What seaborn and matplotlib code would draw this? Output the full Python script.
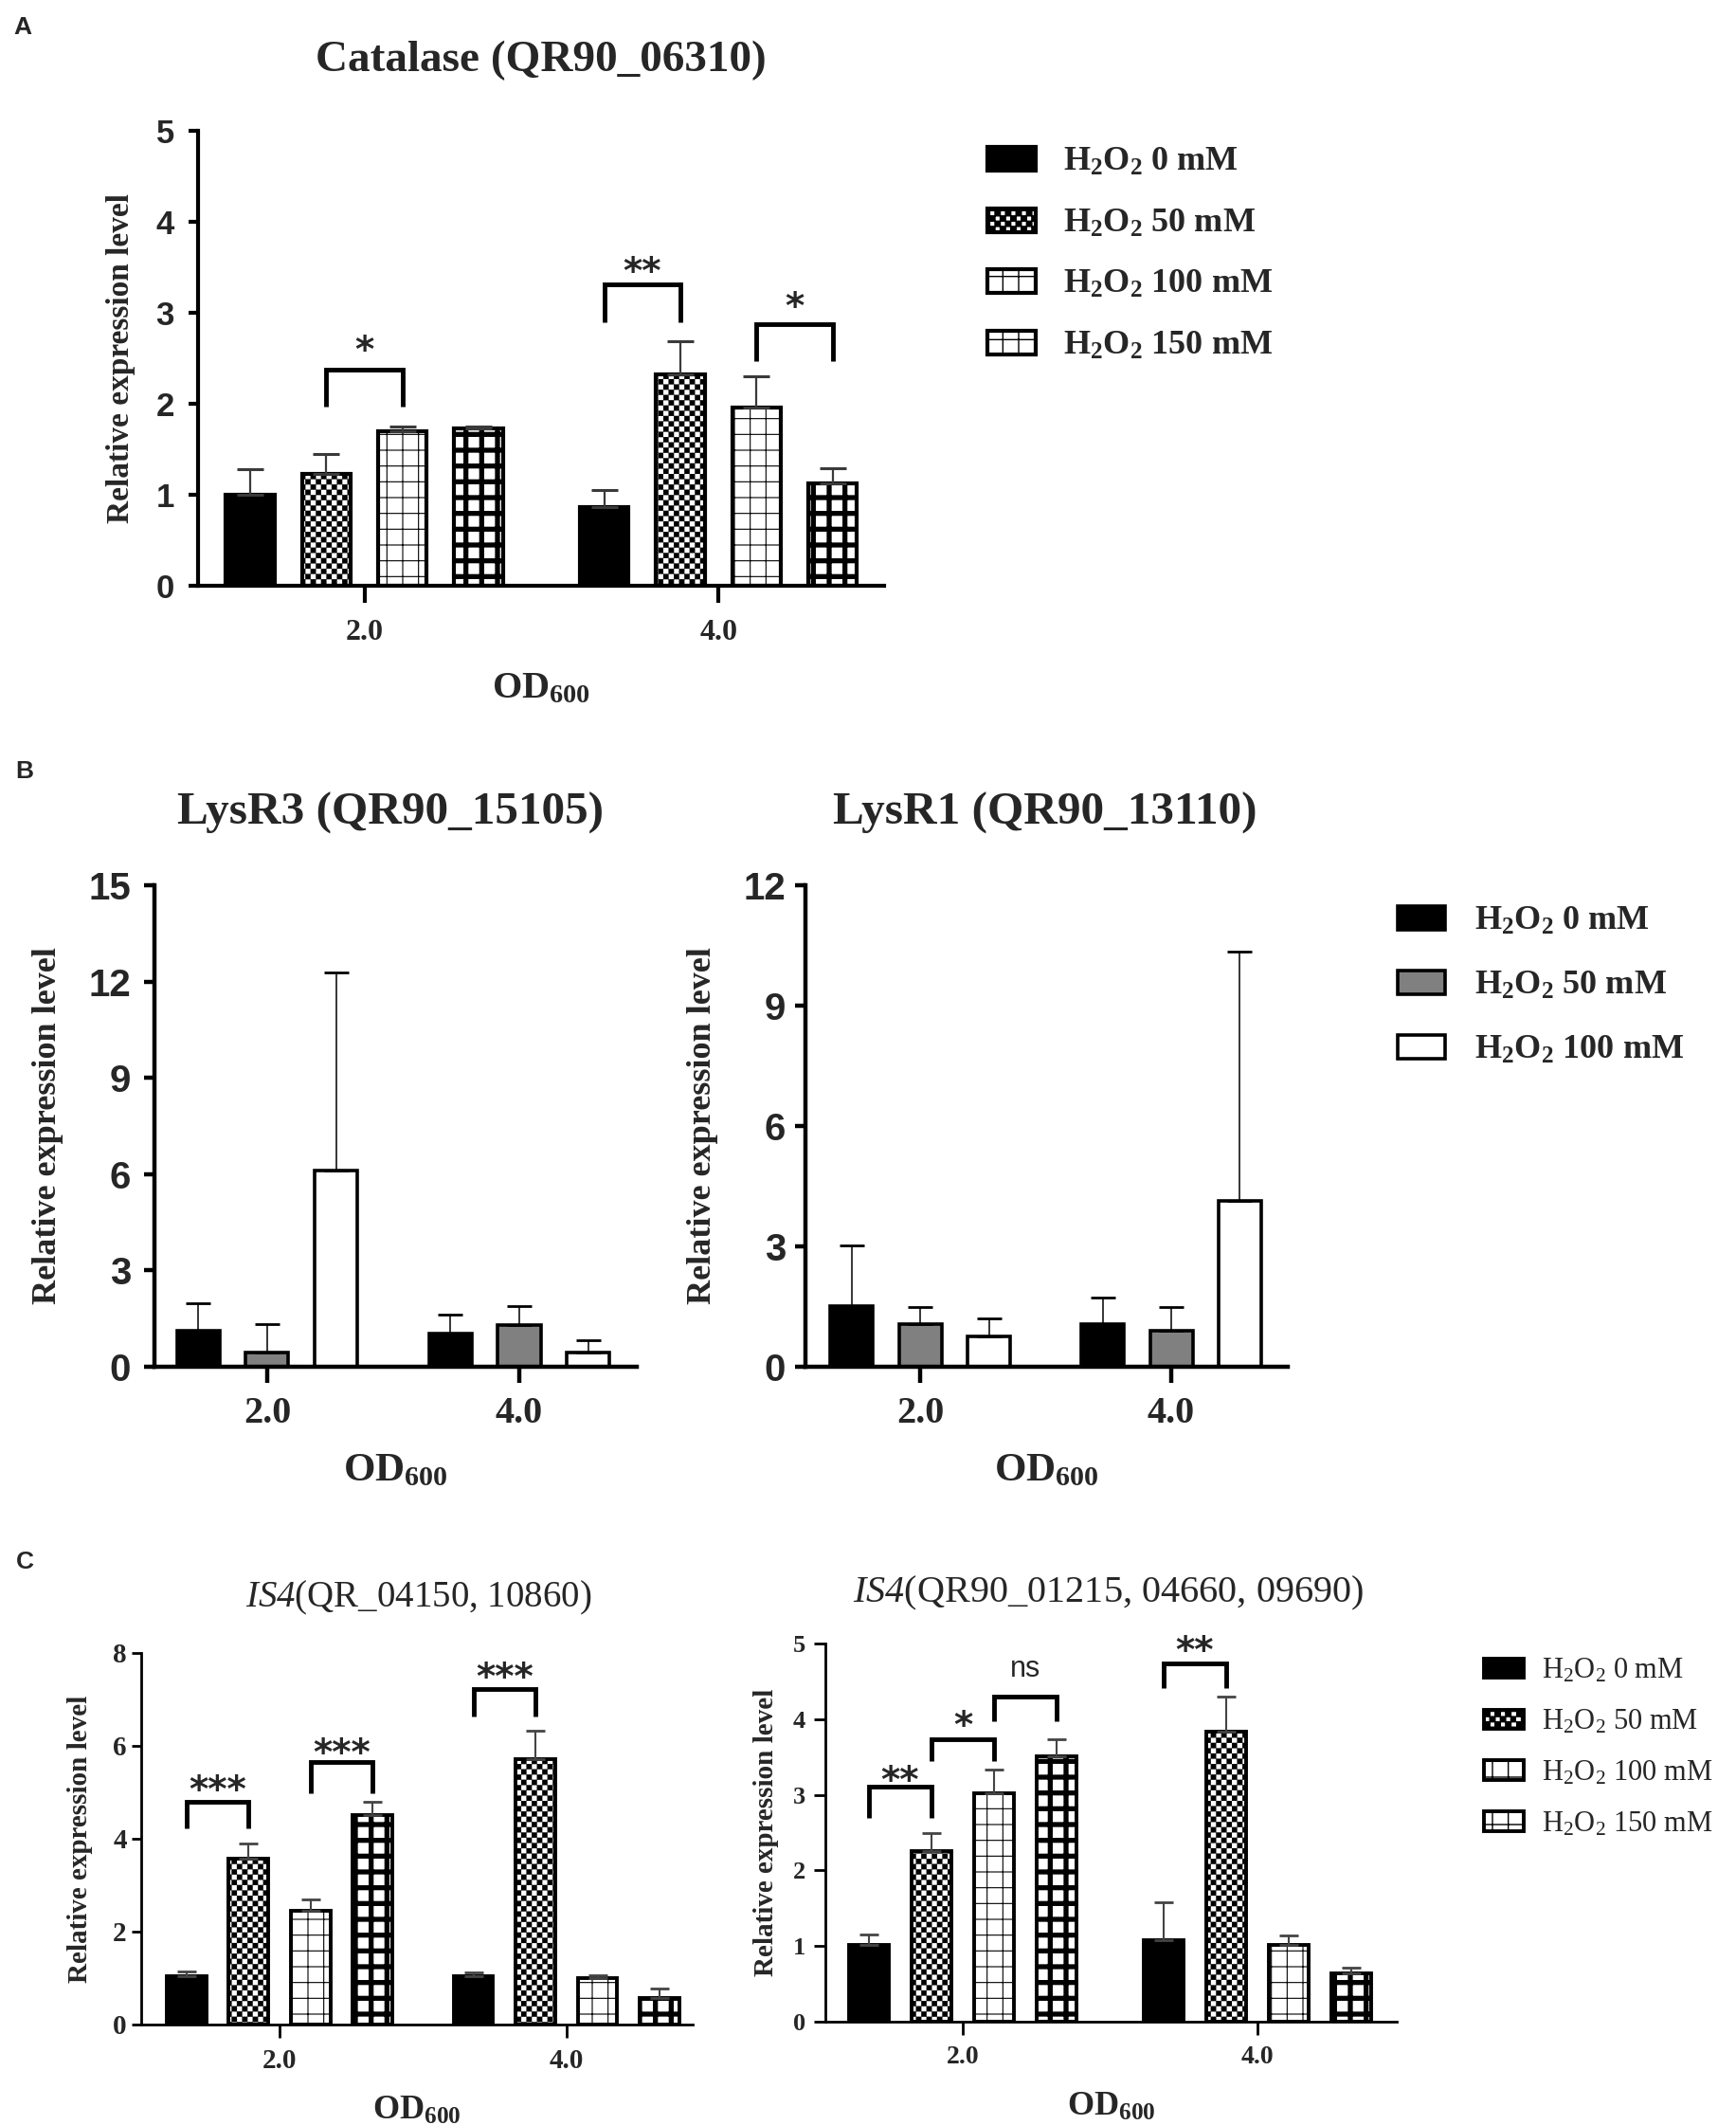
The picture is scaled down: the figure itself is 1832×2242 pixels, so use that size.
import numpy as np
import pandas as pd
import matplotlib
matplotlib.use("Agg")
import matplotlib.pyplot as plt
import matplotlib.patches as mpatches
import matplotlib.transforms as mtransforms
import matplotlib.hatch as mhatch
from matplotlib.path import Path
import seaborn as sns

# ---------------------------------------------------------------- data
od_levels = ["2.0", "4.0"]
h2o2_levels4 = ["0", "50", "100", "150"]
h2o2_levels3 = ["0", "50", "100"]

# Panel A  Catalase (QR90_06310)
A_mean_od2 = [1.00, 1.23, 1.70, 1.73]
A_mean_od4 = [0.86, 2.32, 1.96, 1.12]
A_sd_od2 = [0.28, 0.22, 0.05, 0.02]
A_sd_od4 = [0.19, 0.37, 0.34, 0.17]
A_yticks = [0, 1, 2, 3, 4, 5]
A_brk_group = [0, 1, 1]
A_brk_left = [1, 0, 2]
A_brk_right = [2, 1, 3]
A_brk_top = [2.38, 3.31, 2.88]
A_brk_foot = [1.97, 2.90, 2.47]
A_brk_text = ["*", "**", "*"]
A_brk_text_y = [2.69, 3.56, 3.17]

# Panel B left  LysR3 (QR90_15105)
B1_mean_od2 = [1.13, 0.45, 6.12]
B1_mean_od4 = [1.03, 1.30, 0.45]
B1_sd_od2 = [0.85, 0.88, 6.17]
B1_sd_od4 = [0.60, 0.58, 0.38]
B1_yticks = [0, 3, 6, 9, 12, 15]

# Panel B right  LysR1 (QR90_13110)
B2_mean_od2 = [1.52, 1.06, 0.76]
B2_mean_od4 = [1.06, 0.90, 4.14]
B2_sd_od2 = [1.50, 0.42, 0.45]
B2_sd_od4 = [0.66, 0.58, 6.21]
B2_yticks = [0, 3, 6, 9, 12]

# Panel C left  IS4 (QR_04150, 10860)
C1_mean_od2 = [1.04, 3.58, 2.45, 4.52]
C1_mean_od4 = [1.04, 5.71, 0.99, 0.58]
C1_sd_od2 = [0.11, 0.31, 0.25, 0.27]
C1_sd_od4 = [0.09, 0.61, 0.08, 0.20]
C1_yticks = [0, 2, 4, 6, 8]
C1_brk_group = [0, 0, 1]
C1_brk_left = [0, 2, 0]
C1_brk_right = [1, 3, 1]
C1_brk_top = [4.79, 5.65, 7.22]
C1_brk_foot = [4.23, 4.98, 6.64]
C1_brk_text = ["***", "***", "***"]
C1_brk_text_y = [5.26, 6.05, 7.69]

# Panel C right  IS4 (QR90_01215, 04660, 09690)
C2_mean_od2 = [1.02, 2.26, 3.02, 3.51]
C2_mean_od4 = [1.08, 3.83, 1.02, 0.64]
C2_sd_od2 = [0.13, 0.24, 0.31, 0.23]
C2_sd_od4 = [0.50, 0.47, 0.12, 0.07]
C2_yticks = [0, 1, 2, 3, 4, 5]
C2_brk_group = [0, 0, 0, 1]
C2_brk_left = [0, 1, 2, 0]
C2_brk_right = [1, 2, 3, 1]
C2_brk_top = [3.11, 3.74, 4.30, 4.74]
C2_brk_foot = [2.70, 3.44, 3.97, 4.41]
C2_brk_text = ["**", "*", "ns", "**"]
C2_brk_text_y = [3.32, 4.04, 4.66, 5.03]

titles = ["Catalase (QR90_06310)", "LysR3 (QR90_15105)", "LysR1 (QR90_13110)",
          r"$\mathsf{IS4}$(QR_04150, 10860)", r"$\mathsf{IS4}$(QR90_01215, 04660, 09690)"]
ylabel_text = "Relative expression level"
xlabel_text = r"$\mathbf{OD_{600}}$"

# ---------------------------------------------------------------- checkerboard hatch ('O')
class _CheckerHatch(mhatch.HatchPatternBase):
    def __init__(self, hatch, density):
        self.n = hatch.count("O") * int(density)
        cnt = sum(1 for i in range(self.n) for j in range(self.n) if (i + j) % 2 == 0)
        self.num_vertices = cnt * 5

    def set_vertices_and_codes(self, vertices, codes):
        n = self.n
        s = 1.0 / n
        k = 0
        for i in range(n):
            for j in range(n):
                if (i + j) % 2 == 0:
                    x0, y0 = i * s, j * s
                    vertices[k:k + 5] = [(x0, y0), (x0 + s, y0), (x0 + s, y0 + s),
                                         (x0, y0 + s), (x0, y0)]
                    codes[k] = Path.MOVETO
                    codes[k + 1:k + 4] = Path.LINETO
                    codes[k + 4] = Path.CLOSEPOLY
                    k += 5

CHECK = "OOO"
try:
    mhatch._hatch_types = [t for t in mhatch._hatch_types
                           if t is not mhatch.LargeCircles] + [_CheckerHatch]
except Exception:
    CHECK = "xxxx"

# ---------------------------------------------------------------- style
sns.set_style("ticks")
plt.rcParams["font.family"] = ["Liberation Serif", "DejaVu Serif"]
plt.rcParams["mathtext.fontset"] = "custom"
plt.rcParams["mathtext.rm"] = "Liberation Serif"
plt.rcParams["mathtext.bf"] = "Liberation Serif:bold"
plt.rcParams["mathtext.it"] = "Liberation Serif:italic"
plt.rcParams["mathtext.sf"] = "Liberation Serif:italic"
plt.rcParams["hatch.linewidth"] = 1.0

W, H, DPI = 1833, 2242, 100
fig = plt.figure(figsize=(W / DPI, H / DPI), dpi=DPI)
fig.patch.set_facecolor("white")


def rect(l, t, r, b):
    return [l / W, 1 - b / H, (r - l) / W, (b - t) / H]


def fx(x):
    return x / W


def fy(y):
    return 1 - y / H


COL4 = ["black", "white", "white", "white"]
HAT4 = [None, CHECK, "+", "+"]
HLW4 = [1.0, 0.15, 0.8, 3.8]
COL3 = ["black", "#808080", "white"]
HAT3 = [None, None, None]
HLW3 = [1.0, 1.0, 1.0]


def draw_bars(ax, means, sds, levels, colors, hatches, hlws, width, gap, edge_lw,
              ecolor, elw, capsize, capthick):
    rows = []
    for od, ms in zip(od_levels, means):
        for lev, m in zip(levels, ms):
            rows.append({"OD": od, "H2O2": lev, "value": m})
    df = pd.DataFrame(rows)
    sns.barplot(data=df, x="OD", y="value", hue="H2O2", order=od_levels,
                hue_order=levels, palette=colors, saturation=1, width=width, gap=gap,
                edgecolor="black", linewidth=edge_lw, errorbar=None, legend=False, ax=ax)
    patches = sorted(ax.patches, key=lambda p: p.get_x())
    n = len(levels)
    for i, p in enumerate(patches):
        h = i % n
        if hatches[h]:
            p.set_hatch(hatches[h])
            if hasattr(p, "set_hatch_linewidth"):
                p.set_hatch_linewidth(hlws[h])
    xs = np.array([p.get_x() + p.get_width() / 2 for p in patches]).reshape(len(od_levels), n)
    m = np.array(means, dtype=float)
    s = np.array(sds, dtype=float)
    ax.errorbar(xs.ravel(), m.ravel(), yerr=[np.zeros(m.size), s.ravel()], fmt="none",
                ecolor=ecolor, elinewidth=elw, capsize=capsize, capthick=capthick, zorder=5)
    return xs


def draw_brackets(ax, xs, groups, lefts, rights, tops, feet, texts, text_ys, lw, star_fs, ns_fs):
    for g, a, b, top, foot, t, ty in zip(groups, lefts, rights, tops, feet, texts, text_ys):
        xa, xb = xs[g][a], xs[g][b]
        ax.plot([xa, xa, xb, xb], [foot, top, top, foot], color="black", lw=lw,
                solid_joinstyle="miter", solid_capstyle="butt", zorder=6, clip_on=False)
        if t == "ns":
            tr = mtransforms.offset_copy(ax.transData, fig=fig, x=0, y=-0.26 * ns_fs, units="points")
            ax.text((xa + xb) / 2, ty, t, ha="center", va="baseline", fontsize=ns_fs,
                    family="Liberation Sans", transform=tr, zorder=7)
        else:
            tr = mtransforms.offset_copy(ax.transData, fig=fig, x=0, y=-0.58 * star_fs, units="points")
            ax.text((xa + xb) / 2, ty, t, ha="center", va="baseline", fontsize=star_fs,
                    family="DejaVu Sans", fontweight="bold", transform=tr, zorder=7)


def style_axes(ax, xlim, yticks, spine_lw, ytick_font, ytick_fs, ytick_weight, xtick_fs,
               ylen, ypad, xlen, xpad, ylab_fs, ylab_x, xlab_fs, xlab_y):
    ax.set_xlim(*xlim)
    ax.set_ylim(yticks[0], yticks[-1])
    ax.set_yticks(yticks, labels=[str(v) for v in yticks], fontsize=ytick_fs,
                  fontweight=ytick_weight, family=ytick_font)
    ax.set_xticks(range(len(od_levels)), labels=od_levels, fontsize=xtick_fs,
                  fontweight="bold", family="Liberation Serif")
    for side in ["top", "right"]:
        ax.spines[side].set_visible(False)
    for side in ["left", "bottom"]:
        ax.spines[side].set_linewidth(spine_lw)
        ax.spines[side].set_color("black")
    ax.tick_params(axis="y", direction="out", length=ylen, width=spine_lw, pad=ypad, color="black")
    ax.tick_params(axis="x", direction="out", length=xlen, width=spine_lw, pad=xpad, color="black")
    ax.set_ylabel(ylabel_text, fontsize=ylab_fs, fontweight="bold", family="Liberation Serif")
    ax.yaxis.set_label_coords(ylab_x, 0.5)
    ax.set_xlabel(xlabel_text, fontsize=xlab_fs)
    ax.xaxis.label.set_va("center")
    ax.xaxis.set_label_coords(0.5, xlab_y)
    ax.set_facecolor("white")


def draw_legend(levels, colors, hatches, hlws, edge_lw, x_px, top_px, fs, weight,
                hl, hh, htp, ls):
    handles = []
    labels = []
    for lev, c, h, hw in zip(levels, colors, hatches, hlws):
        p = mpatches.Patch(facecolor=c, edgecolor="black", hatch=h, linewidth=edge_lw)
        if h and hasattr(p, "set_hatch_linewidth"):
            p.set_hatch_linewidth(hw)
        handles.append(p)
        if weight == "bold":
            labels.append(r"$\mathbf{H_2O_2}$ " + lev + " mM")
        else:
            labels.append(r"$\mathrm{H_2O_2}$ " + lev + " mM")
    fig.legend(handles, labels, loc="upper left", bbox_to_anchor=(fx(x_px), fy(top_px)),
               frameon=False, borderpad=0, borderaxespad=0,
               prop=dict(family="Liberation Serif", weight=weight, size=fs),
               handlelength=hl, handleheight=hh, handletextpad=htp, labelspacing=ls)


# ---------------------------------------------------------------- panel A
axA = fig.add_axes(rect(209, 138, 933, 618))
xsA = draw_bars(axA, [A_mean_od2, A_mean_od4], [A_sd_od2, A_sd_od4], h2o2_levels4, COL4,
                HAT4, HLW4, 0.86, 0.36, 3.0, "#3a3a3a", 1.6, 10, 2.2)
style_axes(axA, (-0.47, 1.468), A_yticks, 3.0, "Liberation Sans", 25, "bold", 23,
           7, 11, 13, 12, 24, -0.091, 29, -0.227)
draw_brackets(axA, xsA, A_brk_group, A_brk_left, A_brk_right, A_brk_top, A_brk_foot,
              A_brk_text, A_brk_text_y, 3.5, 28, 22)
fig.text(fx(571), fy(64), titles[0], ha="center", va="center", fontsize=34, fontweight="bold")
draw_legend(h2o2_levels4, COL4, HAT4, HLW4, 3.0, 1042, 155, 26, "bold", 1.41, 0.69, 0.8, 0.87)

# ---------------------------------------------------------------- panel B
axB1 = fig.add_axes(rect(163, 934, 672, 1442))
draw_bars(axB1, [B1_mean_od2, B1_mean_od4], [B1_sd_od2, B1_sd_od4], h2o2_levels3, COL3,
          HAT3, HLW3, 0.82, 0.38, 2.6, "black", 1.1, 9.5, 2.0)
style_axes(axB1, (-0.447, 1.466), B1_yticks, 3.2, "Liberation Sans", 29, "bold", 29,
           8, 10, 12, 10, 26, -0.189, 31, -0.217)
fig.text(fx(412), fy(858), titles[1], ha="center", va="center", fontsize=35.5, fontweight="bold")

axB2 = fig.add_axes(rect(850, 934, 1359, 1442))
draw_bars(axB2, [B2_mean_od2, B2_mean_od4], [B2_sd_od2, B2_sd_od4], h2o2_levels3, COL3,
          HAT3, HLW3, 0.82, 0.38, 2.6, "black", 1.1, 9.5, 2.0)
style_axes(axB2, (-0.457, 1.464), B2_yticks, 3.2, "Liberation Sans", 29, "bold", 29,
           8, 7, 12, 10, 26, -0.181, 31, -0.217)
fig.text(fx(1103), fy(858), titles[2], ha="center", va="center", fontsize=35.5, fontweight="bold")
draw_legend(h2o2_levels3, COL3, HAT3, HLW3, 2.6, 1475, 956, 26, "bold", 1.39, 0.69, 0.86, 0.96)

# ---------------------------------------------------------------- panel C
axC1 = fig.add_axes(rect(149, 1744, 731, 2136))
xsC1 = draw_bars(axC1, [C1_mean_od2, C1_mean_od4], [C1_sd_od2, C1_sd_od4], h2o2_levels4,
                 COL4, HAT4, HLW4, 0.865, 0.36, 2.8, "#444444", 1.5, 7.5, 2.0)
style_axes(axC1, (-0.482, 1.44), C1_yticks, 2.0, "Liberation Serif", 21, "bold", 21,
           7, 4, 10, 8, 21, -0.088, 26, -0.232)
draw_brackets(axC1, xsC1, C1_brk_group, C1_brk_left, C1_brk_right, C1_brk_top, C1_brk_foot,
              C1_brk_text, C1_brk_text_y, 3.5, 28, 22)
fig.text(fx(442), fy(1686), titles[3], ha="center", va="center", fontsize=28)

axC2 = fig.add_axes(rect(871, 1734, 1474, 2133))
xsC2 = draw_bars(axC2, [C2_mean_od2, C2_mean_od4], [C2_sd_od2, C2_sd_od4], h2o2_levels4,
                 COL4, HAT4, HLW4, 0.85, 0.37, 2.8, "#444444", 1.5, 7.5, 2.0)
style_axes(axC2, (-0.466, 1.473), C2_yticks, 2.0, "Liberation Serif", 19, "bold", 20,
           9, 6, 10, 8, 21, -0.081, 26, -0.226)
draw_brackets(axC2, xsC2, C2_brk_group, C2_brk_left, C2_brk_right, C2_brk_top, C2_brk_foot,
              C2_brk_text, C2_brk_text_y, 3.5, 28, 22)
fig.text(fx(1170), fy(1681), titles[4], ha="center", va="center", fontsize=29)
draw_legend(h2o2_levels4, COL4, HAT4, HLW4, 2.8, 1566, 1748, 22, "normal", 1.37, 0.65, 0.62, 0.8)

# ---------------------------------------------------------------- panel letters
for letter, (lx, ly) in zip(["A", "B", "C"], [(24, 29), (26, 814), (26, 1648)]):
    fig.text(fx(lx), fy(ly), letter, ha="center", va="center", fontsize=19,
             fontweight="bold", family="Liberation Sans")

fig.savefig("out.png", dpi=DPI, facecolor="white")
